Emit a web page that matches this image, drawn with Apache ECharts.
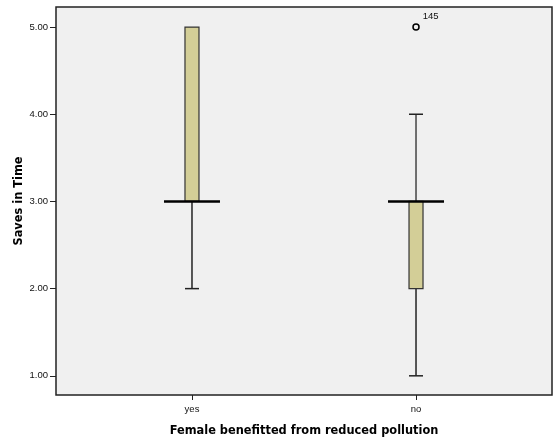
<!DOCTYPE html>
<html>
<head>
<meta charset="utf-8">
<script src="https://cdn.jsdelivr.net/npm/echarts@6/dist/echarts.min.js"></script>
<style>html,body{margin:0;padding:0;background:#fff}#c{width:554px;height:441px}</style>
</head>
<body>
<div id="c"></div>
<script>
var categories = ['yes', 'no'];
var whiskerLow = [2, 1];
var q1 = [3, 2];
var medians = [3, 3];
var q3 = [5, 3];
var whiskerHigh = [5, 4];
var outliers = [[1, 5, '145']];
var yTicks = [1, 2, 3, 4, 5];

var boxData = categories.map(function (c, i) {
  return [i, whiskerLow[i], q1[i], medians[i], q3[i], whiskerHigh[i]];
});

var chart = echarts.init(document.getElementById('c'), null, {renderer: 'canvas'});
var lineColor = '#222';
var tickFont = 'Liberation Sans';
chart.setOption({
  animation: false,
  backgroundColor: '#fff',
  grid: {left: 56, right: 2, top: 7, bottom: 46, outerBoundsMode: 'none', containLabel: false, show: true, backgroundColor: '#f0f0f0', borderColor: '#222', borderWidth: 1.5},
  xAxis: {
    type: 'value', min: -0.607, max: 1.607,
    name: 'Female benefitted from reduced pollution', nameLocation: 'middle', nameGap: 31, nameMoveOverlap: false,
    nameTextStyle: {fontFamily: 'DejaVu Sans', fontWeight: 'bold', fontSize: 11.4, color: '#000'},
    splitLine: {show: false},
    axisLine: {show: false, onZero: false},
    axisTick: {show: true, length: 5, customValues: [0, 1], lineStyle: {color: '#222', width: 1}},
    axisLabel: {customValues: [0, 1], formatter: function (v) { return categories[Math.round(v)]; }, fontFamily: tickFont, fontSize: 9.5, color: '#111', margin: 9}
  },
  yAxis: {
    type: 'value', min: 0.78, max: 5.23,
    name: 'Saves in Time', nameLocation: 'middle', nameGap: 31, nameMoveOverlap: false,
    nameTextStyle: {fontFamily: 'DejaVu Sans', fontWeight: 'bold', fontSize: 11.4, color: '#000'},
    splitLine: {show: false},
    axisLine: {show: false, onZero: false},
    axisTick: {show: true, length: 6, customValues: yTicks, lineStyle: {color: '#222', width: 1}},
    axisLabel: {customValues: yTicks, formatter: function (v) { return v.toFixed(2); }, fontFamily: tickFont, fontSize: 9.5, color: '#111', margin: 8}
  },
  series: [{
    type: 'custom',
    data: boxData,
    encode: {x: 0, y: [1, 5]},
    renderItem: function (params, api) {
      var x = api.value(0);
      var pLow = api.coord([x, api.value(1)]);
      var pQ1 = api.coord([x, api.value(2)]);
      var pMed = api.coord([x, api.value(3)]);
      var pQ3 = api.coord([x, api.value(4)]);
      var pHigh = api.coord([x, api.value(5)]);
      var cx = pLow[0];
      var bw = 14, cw = 14, mw = 56;
      var children = [];
      var ls = {stroke: lineColor, lineWidth: 1.5};
      if (api.value(1) < api.value(2)) {
        children.push({type: 'line', shape: {x1: cx, y1: pQ1[1], x2: cx, y2: pLow[1]}, style: ls});
        children.push({type: 'line', shape: {x1: cx - cw / 2, y1: pLow[1], x2: cx + cw / 2, y2: pLow[1]}, style: ls});
      }
      if (api.value(5) > api.value(4)) {
        children.push({type: 'line', shape: {x1: cx, y1: pQ3[1], x2: cx, y2: pHigh[1]}, style: {stroke: '#444', lineWidth: 1.5}});
        children.push({type: 'line', shape: {x1: cx - cw / 2, y1: pHigh[1], x2: cx + cw / 2, y2: pHigh[1]}, style: ls});
      }
      children.push({type: 'rect', shape: {x: cx - bw / 2, y: pQ3[1], width: bw, height: pQ1[1] - pQ3[1]}, style: {fill: '#d3ce97', stroke: '#333', lineWidth: 1.2}});
      children.push({type: 'line', shape: {x1: cx - mw / 2, y1: pMed[1], x2: cx + mw / 2, y2: pMed[1]}, style: {stroke: '#000', lineWidth: 2.5}});
      return {type: 'group', children: children};
    }
  }, {
    type: 'scatter',
    data: outliers.map(function (o) { return [o[0], o[1], o[2]]; }),
    symbol: 'circle', symbolSize: 6,
    itemStyle: {color: '#f0f0f0', borderColor: '#000', borderWidth: 1.5, opacity: 1},
    label: {show: true, formatter: function (p) { return p.data[2]; }, position: 'right', offset: [-2, -11], fontFamily: tickFont, fontSize: 9.5, color: '#111'}
  }]
});
</script>
</body>
</html>
